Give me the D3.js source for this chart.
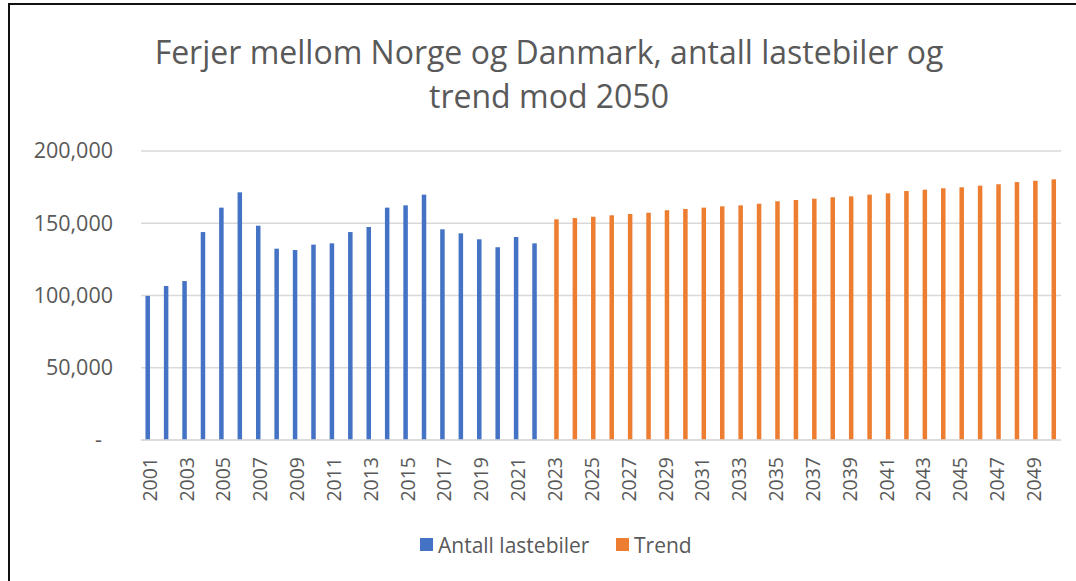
<!DOCTYPE html>
<html>
<head>
<meta charset="utf-8">
<script src="https://cdn.jsdelivr.net/npm/d3@7"></script>
<style>
  body { margin: 0; background: #fff; }
  svg { display: block; }
  text { font-family: "Open Sans", sans-serif; fill: #595959; }
</style>
</head>
<body>
<div id="chart"></div>
<script>
// år og verdier lest av figuren
var years = d3.range(2001, 2051);
var antallYears = d3.range(2001, 2023);
var antall = [99700, 106600, 110000, 143900, 160800, 171400, 148300, 132400, 131500, 135200,
  136100, 143900, 147400, 160800, 162400, 169800, 145800, 143000, 138900, 133400, 140500, 136100];
var trendYears = d3.range(2023, 2051);
var trend = [152700, 153600, 154500, 155500, 156400, 157300, 159000, 159900, 160800, 161700,
  162400, 163500, 165200, 166100, 167000, 168000, 168600, 169800, 170700, 172300,
  173200, 174200, 174900, 176000, 177000, 178500, 179400, 180400];
var yTicks = [0, 50000, 100000, 150000, 200000];
var seriesNames = ['Antall lastebiler', 'Trend'];
var colors = ['#4472C4', '#ED7D31'];
var titleLines = ['Ferjer mellom Norge og Danmark, antall lastebiler og', 'trend mod 2050'];

var W = 1076, H = 581;
var svg = d3.select('#chart').append('svg')
  .attr('width', W).attr('height', H);

svg.append('rect').attr('width', W).attr('height', H).attr('fill', '#fff');

// ramme (venstre og topp)
svg.append('path')
  .attr('d', 'M9,' + H + 'V4H' + W)
  .attr('fill', 'none')
  .attr('stroke', '#111')
  .attr('stroke-width', 2);

var x = d3.scaleBand()
  .domain(years)
  .range([140.5, 1061.5]);

var y = d3.scaleLinear()
  .domain([0, 200000])
  .range([440, 151]);

// tittel
svg.append('g').selectAll('text')
  .data(titleLines)
  .enter().append('text')
    .attr('x', 549)
    .attr('y', function(d, i) { return 64 + i * 44; })
    .attr('text-anchor', 'middle')
    .style('font-size', '32px')
    .text(function(d) { return d; });

// rutenett
svg.append('g')
  .selectAll('line')
  .data(yTicks)
  .enter().append('line')
    .attr('x1', 141).attr('x2', 1061)
    .attr('y1', function(d) { return y(d); })
    .attr('y2', function(d) { return y(d); })
    .attr('stroke', '#d9d9d9')
    .attr('stroke-width', 1.4);

// y-akse
var yAxis = svg.append('g')
  .attr('transform', 'translate(113,0)')
  .call(d3.axisLeft(y).tickValues(yTicks).tickSize(0).tickPadding(0)
    .tickFormat(function(d) { return d === 0 ? '-' : d3.format(',')(d); }));
yAxis.select('.domain').remove();
yAxis.selectAll('text')
  .style('font-size', '21.5px')
  .attr('fill', '#595959')
  .attr('dx', function(d) { return d === 0 ? -11 : 0; });

// x-akse
var xAxis = svg.append('g')
  .attr('transform', 'translate(0,440)')
  .call(d3.axisBottom(x).tickSize(0)
    .tickFormat(function(d) { return (d - 2001) % 2 === 0 ? d : ''; }));
xAxis.select('.domain').remove();
xAxis.selectAll('text')
  .style('font-size', '19.5px')
  .attr('fill', '#595959')
  .attr('transform', 'rotate(-90)')
  .attr('text-anchor', 'end')
  .attr('x', -17)
  .attr('y', 0)
  .attr('dy', '0.36em')
  .attr('dx', 0);

// søyler
var barW = 4.5;
var blue = antallYears.map(function(d, i) { return { year: d, value: antall[i] }; });
var orange = trendYears.map(function(d, i) { return { year: d, value: trend[i] }; });

svg.append('g').selectAll('rect')
  .data(blue)
  .enter().append('rect')
    .attr('x', function(d) { return x(d.year) + x.bandwidth() / 2 - 2 - barW / 2; })
    .attr('y', function(d) { return y(d.value); })
    .attr('width', barW)
    .attr('height', function(d) { return y(0) - y(d.value); })
    .attr('fill', colors[0]);

svg.append('g').selectAll('rect')
  .data(orange)
  .enter().append('rect')
    .attr('x', function(d) { return x(d.year) + x.bandwidth() / 2 + 1.5 - barW / 2; })
    .attr('y', function(d) { return y(d.value); })
    .attr('width', barW)
    .attr('height', function(d) { return y(0) - y(d.value); })
    .attr('fill', colors[1]);

// akselinje
svg.append('line')
  .attr('x1', 141).attr('x2', 1061)
  .attr('y1', y(0)).attr('y2', y(0))
  .attr('stroke', '#d9d9d9')
  .attr('stroke-width', 1.4);

// forklaring
var legX = [420, 616];
var item = svg.append('g').selectAll('g')
  .data(seriesNames)
  .enter().append('g')
    .attr('transform', function(d, i) { return 'translate(' + legX[i] + ',538)'; });
item.append('rect')
  .attr('width', 13).attr('height', 13)
  .attr('fill', function(d, i) { return colors[i]; });
item.append('text')
  .attr('x', 18)
  .attr('y', 14.5)
  .style('font-size', '21px')
  .text(function(d) { return d; });
</script>
</body>
</html>
